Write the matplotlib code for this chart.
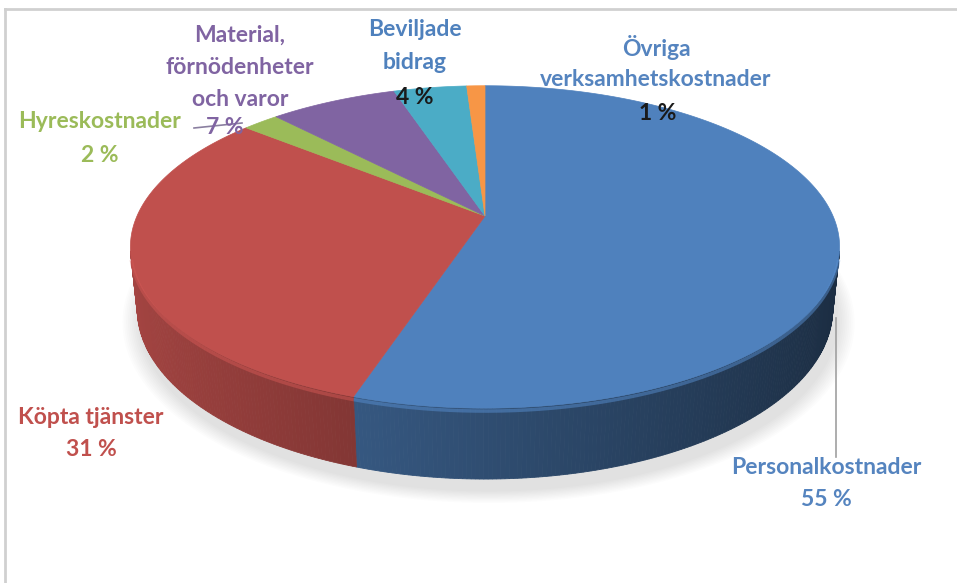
# 3D-style pie chart of cost distribution

import numpy as np
import matplotlib.pyplot as plt
from matplotlib.patches import Polygon
import matplotlib.colors as mcolors

# data, clockwise from 12 o'clock
labels = ['Personalkostnader', 'Köpta tjänster', 'Hyreskostnader',
          'Material,\nförnödenheter\noch varor', 'Beviljade\nbidrag',
          'Övriga\nverksamhetskostnader']
values = [55, 31, 2, 7, 4, 1]
pct_labels = ['55 %', '31 %', '2 %', '7 %', '4 %', '1 %']
colors = ['#4F81BD', '#C0504D', '#9BBB59', '#8064A2', '#4BACC6', '#F79646']
name_colors = ['#5584BF', '#C0504D', '#9BBB59', '#8064A2', '#4F81BD', '#5584BF']
pct_colors = ['#5584BF', '#C0504D', '#9BBB59', '#8064A2', '#1A1A1A', '#1A1A1A']

# label positions in pixels: (x of name, y of first name line, x of pct, y of pct)
label_pos = [(826, 467, 826, 499), (91, 418, 91, 449), (100, 122, 100, 155),
             (240, 35, 225, 128), (415, 30, 415, 97), (656, 47, 658, 113)]

W, H = 957, 583
font = ['Lato', 'DejaVu Sans']
fsize = 16.5
line_step = 32.5

# projection of a unit disc seen from above at an angle
elev = np.radians(26.5)
se, ce = np.sin(elev), np.cos(elev)
f = 4.66
S = 348
cx, cy = 485, 216
h = 0.2


def proj(x, y, z):
    v = y * se + z * ce
    w = y * ce - z * se
    s = f / (f + w)
    return cx + S * x * s, cy - S * v * s


def rim(theta, z=0.0, r=1.0):
    # theta clockwise from far point
    return proj(r * np.sin(theta), r * np.cos(theta), z)


fig = plt.figure(figsize=(W / 100, H / 100), dpi=100)
ax = fig.add_axes([0, 0, 1, 1])
ax.set_xlim(0, W)
ax.set_ylim(H, 0)
ax.axis('off')

# frame
ax.plot([5, 5], [H, 9], color='#d0d0d0', lw=2)
ax.plot([5, W], [9, 9], color='#d0d0d0', lw=2)

# soft shadow under the disc
t = np.linspace(0, 2 * np.pi, 200)
for k in range(10):
    r = 1.0 + 0.005 * k
    xs, ys = proj(r * np.sin(t) + 0.01, r * np.cos(t) - 0.03, -h)
    ax.add_patch(Polygon(np.c_[xs, ys + 5], closed=True, color='#000000',
                         alpha=0.012, lw=0, zorder=1))

frac = np.array(values) / sum(values)
edges = np.concatenate([[0], np.cumsum(frac)]) * 2 * np.pi

# sides: only the part facing the viewer
for i in range(len(values)):
    a0, a1 = edges[i], edges[i + 1]
    th = np.linspace(a0, a1, max(int((a1 - a0) / 0.01), 2))
    base = np.array(mcolors.to_rgb(colors[i]))
    for j in range(len(th) - 1):
        tm = 0.5 * (th[j] + th[j + 1])
        # visible where normal points to camera
        if np.cos(tm) > -1 / (f * ce) + 0.02:
            continue
        x0, y0 = rim(th[j]); x1, y1 = rim(th[j + 1])
        x2, y2 = rim(th[j + 1], -h); x3, y3 = rim(th[j], -h)
        fac = 0.6 - 0.26 * np.sin(tm)
        c = np.clip(base * fac, 0, 1)
        ax.add_patch(Polygon([(x0, y0), (x1, y1), (x2, y2), (x3, y3)],
                             closed=True, facecolor=c, edgecolor=c,
                             lw=0.6, zorder=2))

# top faces
for i in range(len(values)):
    a0, a1 = edges[i], edges[i + 1]
    th = np.linspace(a0, a1, max(int((a1 - a0) / 0.01), 2))
    xs, ys = rim(th)
    pts = np.c_[np.r_[cx, xs], np.r_[cy, ys]]
    ax.add_patch(Polygon(pts, closed=True, facecolor=colors[i],
                         edgecolor=colors[i], lw=0.5, zorder=3))

    # soft bevel on the front edge
    front = th[np.cos(th) < -0.25]
    if len(front) > 1:
        hx, hy = rim(front, -0.008)
        light = np.clip(np.array(mcolors.to_rgb(colors[i])) * 1.1, 0, 1)
        ax.plot(hx, hy, color=light, lw=2.5, alpha=0.5, zorder=4,
                solid_capstyle='butt')

# labels
for i in range(len(values)):
    x, yn, px, yp = label_pos[i]
    for k, line in enumerate(labels[i].split('\n')):
        ax.text(x, yn + k * line_step, line, ha='center', va='center',
                fontsize=fsize, fontweight='bold', color=name_colors[i],
                family=font, zorder=6)
    ax.text(px, yp, pct_labels[i], ha='center', va='center', fontsize=fsize,
            fontweight='bold', color=pct_colors[i], family=font, zorder=6)

# leader lines
ax.plot([836, 836], [318, 457], color='#a0a0a0', lw=1.2, zorder=5)
ax.plot([194, 242], [128, 123], color='#8a7fa0', lw=1.2, zorder=5)

fig.savefig('out.png', dpi=100)
